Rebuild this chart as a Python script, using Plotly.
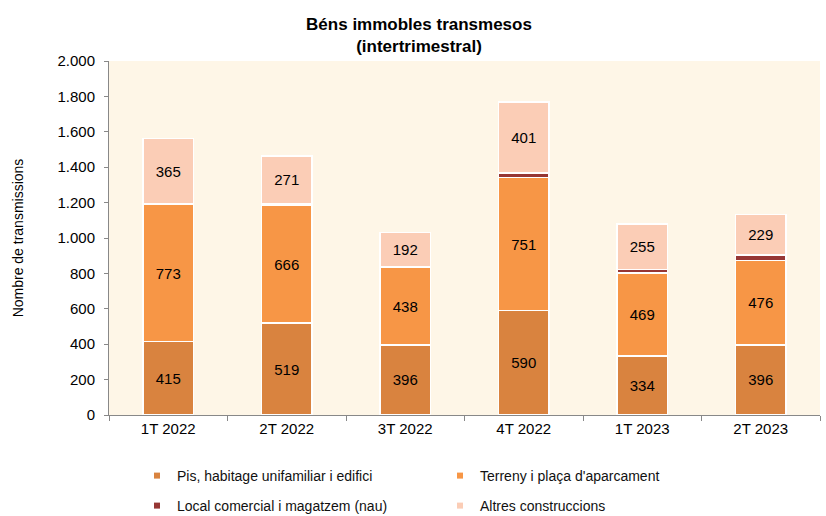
import plotly.graph_objects as go

categories = ["1T 2022", "2T 2022", "3T 2022", "4T 2022", "1T 2023", "2T 2023"]
pis = [415, 519, 396, 590, 334, 396]
terreny = [773, 666, 438, 751, 469, 476]
local = [8, 8, 6, 25, 20, 32]
altres = [365, 271, 192, 401, 255, 229]

series = [
    ("Pis, habitage unifamiliar i edifici", pis, "#D9833F", True, "legend"),
    ("Terreny i plaça d'aparcament", terreny, "#F79646", True, "legend"),
    ("Local comercial i magatzem (nau)", local, "#963634", False, "legend2"),
    ("Altres construccions", altres, "#FBCDB6", True, "legend2"),
]

FONT = "Liberation Sans, Arial, sans-serif"
fig = go.Figure()
for name, vals, color, lab, lg in series:
    fig.add_trace(go.Bar(
        x=categories, y=vals, name=name, showlegend=False,
        marker=dict(color=color, line=dict(color="white", width=1.5)),
        text=[str(v) for v in vals] if lab else None,
        textposition="inside" if lab else "none",
        insidetextanchor="middle",
        textfont=dict(family=FONT, size=15, color="black"),
        hoverinfo="skip",
        width=0.43,
    ))
for name, vals, color, lab, lg in series:
    fig.add_trace(go.Scatter(
        x=[None], y=[None], mode="markers", name=name, legend=lg,
        marker=dict(symbol="square", size=6, color=color),
    ))

leg_common = dict(
    orientation="h", xref="container", yref="container",
    x=137/826, xanchor="left", yanchor="middle",
    entrywidth=258, entrywidthmode="pixels", traceorder="normal",
    font=dict(family=FONT, size=14, color="#111"),
    bgcolor="rgba(0,0,0,0)",
)

fig.update_layout(
    width=826, height=516,
    margin=dict(l=109, r=6, t=61, b=101, autoexpand=False),
    paper_bgcolor="white",
    plot_bgcolor="#FEF6E7",
    barmode="stack",
    separators=",.",
    font=dict(family=FONT, size=13, color="black"),
    title=dict(
        text="<b>Béns immobles transmesos<br>(intertrimestral)</b>",
        x=419/826, xref="container", xanchor="center",
        y=1 - 30/516, yref="container", yanchor="middle",
        font=dict(family=FONT, size=17, color="black"),
    ),
    legend=dict(leg_common, y=1 - 476/516),
    legend2=dict(leg_common, y=1 - 506/516),
    showlegend=True,
)
fig.update_yaxes(
    range=[0, 2000], dtick=200, tickformat=",d",
    showgrid=False, zeroline=False,
    showline=True, linecolor="#888888", linewidth=1,
    ticks="outside", ticklen=4, tickcolor="#888888",
    ticklabelstandoff=6,
    tickfont=dict(family=FONT, size=15, color="black"),
    title=dict(text="Nombre de transmissions", font=dict(family=FONT, size=14, color="black"), standoff=30),
)
fig.update_xaxes(
    showgrid=False, showline=True, linecolor="#888888", linewidth=1,
    ticks="outside", ticklen=5, tickcolor="#888888", tickson="boundaries",
    tickfont=dict(family=FONT, size=15, color="black"),
)

fig.write_html("out.html", config={"displayModeBar": False},
               post_script="document.body.style.margin='0';document.body.style.padding='0';")
